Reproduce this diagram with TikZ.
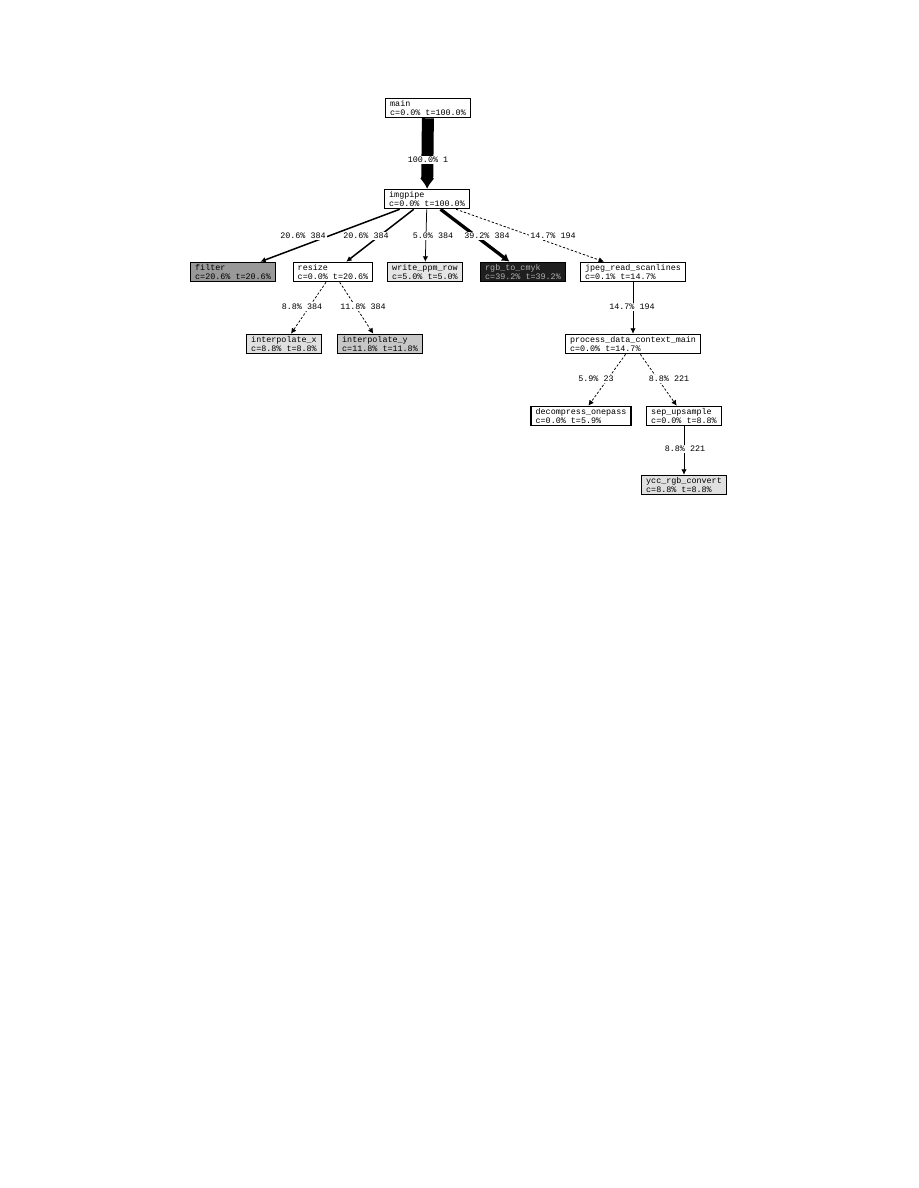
\documentclass[tikz,border=0pt]{standalone}
\usepackage{fontspec}
\setmonofont{Liberation Mono}
\usepackage{tikz}
\usetikzlibrary{arrows.meta, positioning}

\begin{document}
\begin{tikzpicture}[
    x=0.6667pt, y=-0.6667pt,
    func/.style={rectangle, draw=black, line width=0.9pt, fill=white, align=left,
        inner xsep=3pt, inner ysep=1.2pt, font=\ttfamily\fontsize{5.6}{6.3}\selectfont},
    lbl/.style={fill=white, inner sep=0.6pt, font=\ttfamily\fontsize{5.6}{6.3}\selectfont},
    call/.style={-{Latex[length=3.6pt, width=3.6pt]}, line width=0.5pt},
    thin call/.style={call, dash pattern=on 1.6pt off 1.2pt}
]
\useasboundingbox (0,0) rectangle (918,1188);

\node[func] (main) at (428,108) {main\\c=0.0\% t=100.0\%};
\node[func] (imgpipe) at (427,199) {imgpipe\\c=0.0\% t=100.0\%};

\node[func, fill=black!40] (filter) at (233,272) {filter\\c=20.6\% t=20.6\%};
\node[func] (resize) at (333,272) {resize\\c=0.0\% t=20.6\%};
\node[func, fill=black!10] (ppmrow) at (425,272) {write\_ppm\_row\\c=5.0\% t=5.0\%};
\node[func, fill=black!88, text=black!30] (cmyk) at (523,272) {rgb\_to\_cmyk\\c=39.2\% t=39.2\%};
\node[func] (scanlines) at (633,272) {jpeg\_read\_scanlines\\c=0.1\% t=14.7\%};

\node[func, fill=black!12] (interpx) at (284,344) {interpolate\_x\\c=8.8\% t=8.8\%};
\node[func, fill=black!22] (interpy) at (380,344) {interpolate\_y\\c=11.8\% t=11.8\%};
\node[func] (procdata) at (633,344) {process\_data\_context\_main\\c=0.0\% t=14.7\%};

\node[func] (onepass) at (581,416) {decompress\_onepass\\c=0.0\% t=5.9\%};
\node[func] (upsample) at (684,416) {sep\_upsample\\c=0.0\% t=8.8\%};
\node[func, fill=black!12] (yccrgb) at (684,485) {ycc\_rgb\_convert\\c=8.8\% t=8.8\%};

% calls
\draw[call, line width=8pt, -{Latex[length=7pt, width=10pt]}] (main) -- (imgpipe);
\draw[call, line width=1pt] (imgpipe) -- (filter);
\draw[call, line width=1pt] (imgpipe) -- (resize);
\draw[call] (imgpipe) -- (ppmrow);
\draw[call, line width=2.2pt, -{Latex[length=5pt, width=6pt]}] (imgpipe) -- (cmyk);
\draw[thin call] (imgpipe) -- (scanlines);
\draw[thin call] (resize) -- (interpx);
\draw[thin call] (resize) -- (interpy);
\draw[call] (scanlines) -- (procdata);
\draw[thin call] (procdata) -- (onepass);
\draw[thin call] (procdata) -- (upsample);
\draw[call] (upsample) -- (yccrgb);

% labels
\node[lbl] (l-main) at (428,160) {100.0\% 1};
\node[lbl] (l-filter) at (303,236) {20.6\% 384};
\node[lbl] (l-resize) at (366,236) {20.6\% 384};
\node[lbl] (l-ppmrow) at (433,236) {5.0\% 384};
\node[lbl] (l-cmyk) at (487,236) {39.2\% 384};
\node[lbl] (l-scanlines) at (553,236) {14.7\% 194};
\node[lbl] (l-interpx) at (302,307) {8.8\% 384};
\node[lbl] (l-interpy) at (363,307) {11.8\% 384};
\node[lbl] (l-procdata) at (632,307) {14.7\% 194};
\node[lbl] (l-onepass) at (596,379) {5.9\% 23};
\node[lbl] (l-upsample) at (669,379) {8.8\% 221};
\node[lbl] (l-yccrgb) at (685,449) {8.8\% 221};
\end{tikzpicture}
\end{document}
